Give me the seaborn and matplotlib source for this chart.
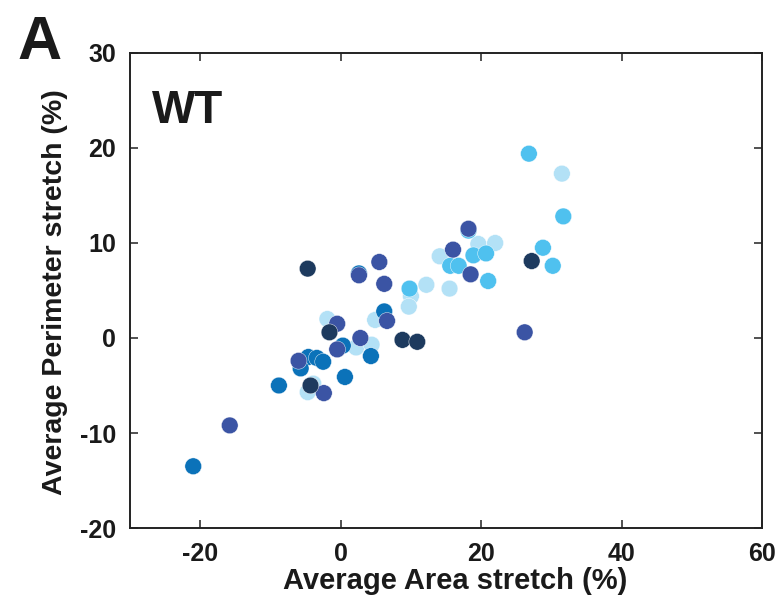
import numpy as np
import pandas as pd
import matplotlib
matplotlib.use("Agg")
import matplotlib.pyplot as plt
import seaborn as sns

# ----------------------------
# data, one group per colour
# ----------------------------
light_x = [31.5, 19.6, 22.0, 14.1, 12.2, 15.5, 10.0, 9.7, 4.9, -1.9, 2.2, 4.4, -4.7, -3.9]
light_y = [17.3, 9.9, 10.0, 8.6, 5.6, 5.2, 4.4, 3.3, 1.9, 2.0, -1.0, -0.7, -5.7, -4.8]

sky_x = [26.8, 31.7, 18.2, 18.9, 20.7, 15.6, 16.8, 21.0, 28.8, 30.2, 9.8]
sky_y = [19.4, 12.8, 11.3, 8.7, 8.9, 7.6, 7.6, 6.0, 9.5, 7.6, 5.2]

medium_x = [2.6, 6.2, 0.3, 4.3, -4.6, -3.4, -2.5, -5.7, -8.8, 0.6, -21.0]
medium_y = [6.8, 2.8, -0.8, -1.9, -2.0, -2.1, -2.5, -3.2, -5.0, -4.1, -13.5]

indigo_x = [18.2, 16.0, 18.5, 26.2, 5.5, 6.2, 6.6, 2.6, -0.5, -0.5, 2.8, -6.0, -2.4, -15.8]
indigo_y = [11.5, 9.3, 6.7, 0.6, 8.0, 5.7, 1.8, 6.6, 1.5, -1.2, 0.0, -2.4, -5.8, -9.2]

navy_x = [-4.7, -1.6, -4.3, 8.8, 10.9, 27.2]
navy_y = [7.3, 0.6, -5.0, -0.2, -0.4, 8.1]

groups = ["light", "sky", "medium", "indigo", "navy"]
palette = {"light": "#b3e1f6", "sky": "#4fc1ef", "medium": "#0b72b9",
           "indigo": "#3b54a4", "navy": "#1d3a5e"}

frames = []
for g, xs, ys in [("light", light_x, light_y), ("sky", sky_x, sky_y),
                  ("medium", medium_x, medium_y), ("indigo", indigo_x, indigo_y),
                  ("navy", navy_x, navy_y)]:
    frames.append(pd.DataFrame({"area": xs, "perim": ys, "group": g}))
df = pd.concat(frames, ignore_index=True)

# ----------------------------
# plot
# ----------------------------
sns.set_style("ticks")
plt.rcParams['font.family'] = ['Liberation Sans Narrow', 'Liberation Sans', 'DejaVu Sans']
plt.rcParams['font.weight'] = 'bold'
plt.rcParams['axes.unicode_minus'] = False

fig = plt.figure(figsize=(7.81, 6.04), dpi=100)
ax = fig.add_axes([0.1665, 0.1258, 0.8092, 0.7865])

sns.scatterplot(data=df, x="area", y="perim", hue="group", palette=palette,
                hue_order=groups, s=145, linewidth=0.3, edgecolor="white",
                legend=False, ax=ax)

ax.set_xlim(-30, 60)
ax.set_ylim(-20, 30)
ax.set_xticks([-20, 0, 20, 40, 60])
ax.set_yticks([-20, -10, 0, 10, 20, 30])
ax.tick_params(direction='in', length=6, width=1.2, top=True, right=True,
               labelsize=18, pad=10, color='#333333', labelcolor='#1a1a1a')
for lab in ax.get_xticklabels() + ax.get_yticklabels():
    lab.set_fontweight('bold')
for sp in ax.spines.values():
    sp.set_visible(True)
    sp.set_linewidth(1.4)
    sp.set_color('#222222')

ax.set_xlabel('Average Area stretch (%)', fontsize=21, fontweight='bold',
              color='#1a1a1a')
ax.set_ylabel('Average Perimeter stretch (%)', fontsize=20.5, fontweight='bold',
              color='#1a1a1a')
ax.xaxis.set_label_coords(0.514, -0.082, transform=ax.transAxes)
ax.yaxis.set_label_coords(-0.098, 0.497, transform=ax.transAxes)
ax.xaxis.label.set_va('top')
ax.yaxis.label.set_va('bottom')

ax.text(0.035, 0.925, 'WT', transform=ax.transAxes, fontsize=33,
        fontweight='bold', va='top', ha='left', color='#1a1a1a',
        family=['Liberation Sans', 'DejaVu Sans'])
fig.text(0.022, 0.975, 'A', fontsize=44, fontweight='bold', va='top', ha='left',
         color='#1a1a1a', family=['Liberation Sans', 'DejaVu Sans'])

plt.savefig("out.png", dpi=100)
